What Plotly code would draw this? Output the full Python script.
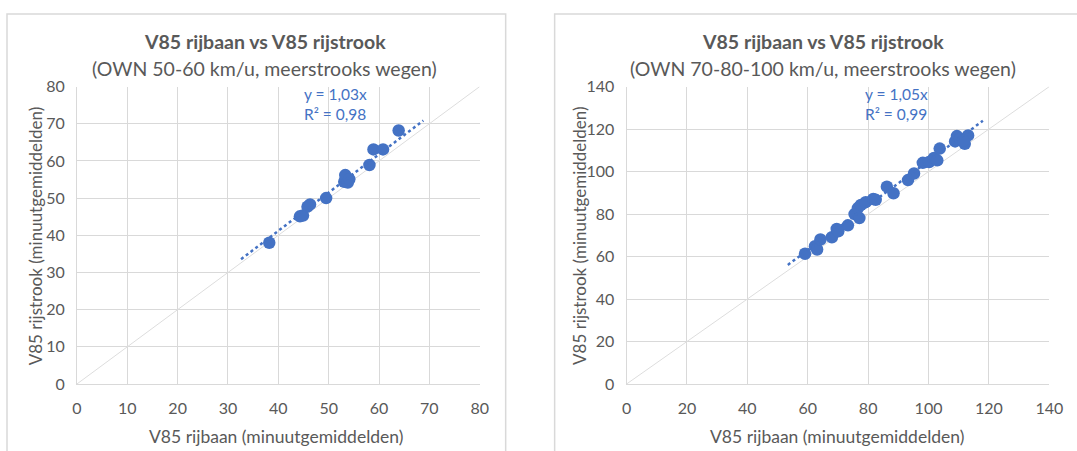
import plotly.graph_objects as go

W, H = 1077, 451

# ---------------- data ----------------
left_x = [38.2, 44.3, 44.9, 45.8, 46.3, 49.5, 53.1, 53.3, 53.8, 54.1, 58.1, 58.9, 60.8, 63.9]
left_y = [38.0, 45.1, 45.3, 47.7, 48.3, 50.0, 54.4, 56.2, 54.2, 55.1, 58.9, 63.1, 63.1, 68.2]
left_slope = 1.03
left_r2 = "0,98"
left_trend_range = [32.6, 68.8]
left_axis_max = 80
left_dtick = 10

right_x = [59.1, 62.4, 63.1, 64.2, 68.0, 69.6, 70.1, 73.3, 75.5, 76.6, 77.1, 77.6, 79.2, 81.7,
           82.5, 86.2, 88.4, 93.2, 95.2, 98.1, 100.2, 101.8, 102.9, 103.7, 108.8, 109.4,
           110.4, 112.0, 113.1, 111.5]
right_y = [61.3, 64.9, 63.3, 68.0, 69.1, 73.0, 71.9, 74.7, 80.0, 82.8, 78.1, 84.3, 85.6, 87.1,
           86.7, 92.9, 89.8, 96.0, 99.1, 104.1, 104.5, 106.4, 105.3, 110.8, 114.2, 116.7,
           115.4, 113.1, 117.0, 114.6]
right_slope = 1.05
right_r2 = "0,99"
right_trend_range = [53.4, 118.0]
right_axis_max = 140
right_dtick = 20

title_main = "V85 rijbaan vs V85 rijstrook"
left_subtitle = "(OWN 50-60 km/u, meerstrooks wegen)"
right_subtitle = "(OWN 70-80-100 km/u, meerstrooks wegen)"
x_title = "V85 rijbaan (minuutgemiddelden)"
y_title = "V85 rijstrook (minuutgemiddelden)"

# ---------------- style ----------------
FONT = "Lato, 'Open Sans', sans-serif"
BLUE = "#4472C4"
GRID = "#D9D9D9"
TXT = "#595959"


def fx(x):
    # layout position (px) -> paper fraction
    return ((x - 5) / 0.983) / W


def fy(y):
    return 1 - ((y - 8) / 0.963) / H


# plot areas in pixels
LX0, LX1 = 77, 480
RX0, RX1 = 627, 1050
PY0, PY1 = 85, 384  # top, bottom

fig = go.Figure()

panels = [
    dict(x=left_x, y=left_y, slope=left_slope, r2=left_r2, tr=left_trend_range,
         amax=left_axis_max, dt=left_dtick, xa="x", ya="y", sub=left_subtitle,
         x0=LX0, x1=LX1, tc=265, xtc=276, yto=42),
    dict(x=right_x, y=right_y, slope=right_slope, r2=right_r2, tr=right_trend_range,
         amax=right_axis_max, dt=right_dtick, xa="x2", ya="y2", sub=right_subtitle,
         x0=RX0, x1=RX1, tc=824, xtc=838, yto=47),
]

for i, p in enumerate(panels):
    fig.add_trace(go.Scatter(x=[0, p["amax"]], y=[0, p["amax"]], mode="lines",
                             line=dict(color="#DDDDDD", width=1), xaxis=p["xa"], yaxis=p["ya"],
                             hoverinfo="skip", showlegend=False))
    fig.add_trace(go.Scatter(x=p["x"], y=p["y"], mode="markers",
                             marker=dict(color=BLUE, size=12.5, line=dict(width=0)),
                             xaxis=p["xa"], yaxis=p["ya"], showlegend=False))
    tx = p["tr"]
    ty = [p["slope"] * v for v in tx]
    fig.add_trace(go.Scatter(x=tx, y=ty, mode="lines",
                             line=dict(color=BLUE, width=2.5, dash="dot"),
                             xaxis=p["xa"], yaxis=p["ya"], hoverinfo="skip", showlegend=False))

    ax = dict(range=[0, p["amax"]], dtick=p["dt"], tick0=0, showgrid=True, gridcolor=GRID,
              gridwidth=1, zeroline=False, showline=True, linecolor=GRID, linewidth=1,
              mirror=False, ticks="", tickfont=dict(family=FONT, size=16, color=TXT),
              fixedrange=True)
    xkey = "xaxis" if i == 0 else "xaxis2"
    ykey = "yaxis" if i == 0 else "yaxis2"
    fig.layout[xkey] = dict(ax, domain=[fx(p["x0"]), fx(p["x1"])],
                            anchor=p["ya"], ticklabelstandoff=10)
    fig.layout[ykey] = dict(ax, domain=[fy(PY1), fy(PY0)],
                            anchor=p["xa"], ticklabelstandoff=8)

    cx = p["tc"]
    fig.add_annotation(x=fx(cx), y=fy(40), xref="paper", yref="paper", showarrow=False,
                       text="<b>" + title_main + "</b>",
                       font=dict(family=FONT, size=19.5, color=TXT), xanchor="center", yanchor="middle")
    fig.add_annotation(x=fx(cx), y=fy(67), xref="paper", yref="paper", showarrow=False,
                       text=p["sub"], font=dict(family=FONT, size=19.5, color=TXT),
                       xanchor="center", yanchor="middle")
    fig.add_annotation(x=fx(p["xtc"]), y=fy(437), xref="paper", yref="paper",
                       showarrow=False, text=x_title, font=dict(family=FONT, size=17.5, color=TXT),
                       xanchor="center", yanchor="middle")
    fig.add_annotation(x=fx(p["x0"] - p["yto"]), y=fy((PY0 + PY1) / 2), xref="paper", yref="paper",
                       showarrow=False, text=y_title, textangle=-90,
                       font=dict(family=FONT, size=17, color=TXT), xanchor="center", yanchor="middle")
    fig.add_annotation(x=0.56, y=1.012, xref=p["xa"] + " domain",
                       yref=p["ya"] + " domain", showarrow=False, align="left",
                       text="y = " + str(p["slope"]).replace(".", ",") + "x<br>R² = " + p["r2"],
                       font=dict(family=FONT, size=15.5, color=BLUE), xanchor="left", yanchor="top")

# panel borders
fig.add_shape(type="rect", xref="paper", yref="paper", x0=fx(7), x1=fx(506), y0=-0.05, y1=fy(12),
              line=dict(color=GRID, width=1.5), layer="below")
fig.add_shape(type="rect", xref="paper", yref="paper", x0=fx(555), x1=1.05, y0=-0.05, y1=fy(12),
              line=dict(color=GRID, width=1.5), layer="below")

fig.update_layout(autosize=True, margin=dict(l=0, r=0, t=0, b=0),
                  paper_bgcolor="white", plot_bgcolor="white", showlegend=False,
                  font=dict(family=FONT, color=TXT))

post = """
var gd = document.getElementById('{plot_id}');
document.documentElement.style.height = '100%';
document.documentElement.style.margin = '0';
document.body.style.margin = '0';
document.body.style.height = '100%';
document.body.style.overflow = 'hidden';
if (gd.parentElement) { gd.parentElement.style.height = '100%'; gd.parentElement.style.width = '100%'; }
gd.style.height = '100%';
gd.style.width = '100%';
Plotly.Plots.resize(gd);
"""

fig.write_html("out.html", config={"displayModeBar": False, "responsive": True},
               default_width="100%", default_height="100%", post_script=post)
